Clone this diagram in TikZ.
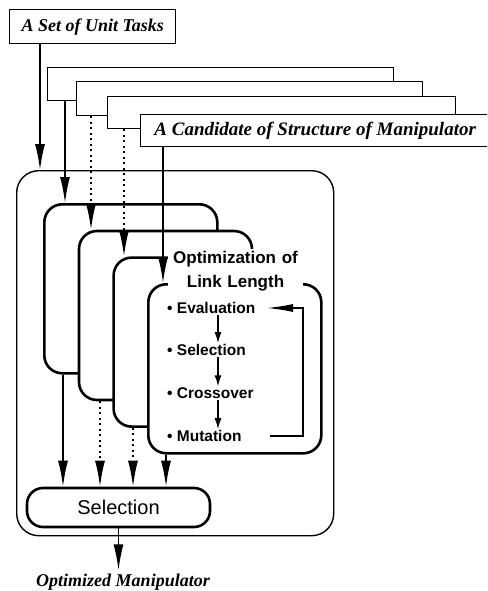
\documentclass[tikz,border=0pt]{standalone}
\usepackage{fontspec}
\setmainfont{Liberation Serif}
\setsansfont{Liberation Sans}
\usetikzlibrary{arrows.meta}

\begin{document}
\begin{tikzpicture}[x=1pt, y=-1pt,
    box/.style = {draw, line width=1.4pt, fill=white, inner sep=0pt, minimum height=33pt, anchor=north west, font=\fontsize{18}{20}\selectfont\bfseries\itshape},
    frame/.style = {draw, line width=2.6pt, fill=white, rounded corners=18pt, minimum width=173pt, minimum height=169pt, anchor=north west},
    item/.style = {anchor=west, inner sep=1pt, font=\fontsize{15.5}{17}\selectfont\sffamily\bfseries},
    arr/.style = {line width=1.6pt, -{Latex[length=26pt, width=10pt]}},
    dotarr/.style = {arr, dash pattern=on 2pt off 3.5pt},
    small/.style = {line width=1.4pt, -{Latex[length=11pt, width=7pt]}}]
    \clip (0,0) rectangle (487,591);
    % input boxes
    \node[box, minimum width=166pt, minimum height=34pt] (tasks) at (9,9) {A Set of Unit Tasks};
    \node[box, minimum width=346pt] (c1) at (47,67) {};
    \node[box, minimum width=346pt, minimum height=34pt] (c2) at (76,81) {};
    \node[box, minimum width=348pt, minimum height=32pt] (c3) at (107,96) {};
    \node[box, minimum width=349pt, minimum height=32pt, font=\fontsize{19}{21}\selectfont\bfseries\itshape] (c4) at (140,114) {A Candidate of Structure of Manipulator};
    % outer frame
    \node[draw, line width=1.4pt, rounded corners=22pt, minimum width=317pt, minimum height=365pt, anchor=north west] (outer) at (16,170) {};
    % optimization frames, back to front
    \node[frame] (o1) at (43,203) {};
    \node[frame] (o2) at (77.7,229.7) {};
    \node[frame] (o3) at (112.3,256.3) {};
    \node[frame] (o4) at (147,283) {};
    \node[fill=white, align=center, inner sep=2pt, text width=131pt, font=\fontsize{17}{24}\selectfont\sffamily\bfseries] (title) at (235.5,271) {Optimization of\\Link Length};
    \node[item] (ev) at (166,308) {• Evaluation};
    \node[item] (se) at (166,350) {• Selection};
    \node[item] (cr) at (166,393) {• Crossover};
    \node[item] (mu) at (166,436) {• Mutation};
    % final selection
    \node[draw, line width=2.6pt, rounded corners=16pt, minimum width=183pt, minimum height=39pt, font=\fontsize{20}{22}\selectfont\sffamily] (sel) at (118.5,507.5) {Selection};
    \node[font=\fontsize{18}{20}\selectfont\bfseries\itshape] (out) at (123,582) {Optimized Manipulator};
    % columns
    \coordinate (k0) at (40,0);
    \coordinate (k1) at (65,0);
    \coordinate (k2) at (91,0);
    \coordinate (k3) at (124,0);
    \coordinate (k4) at (163,0);
    \coordinate (m1) at (63,0);
    \coordinate (m2) at (100,0);
    \coordinate (m3) at (133,0);
    \coordinate (m4) at (166,0);
    \coordinate (ax) at (218,0);
    \coordinate (fbs) at (270,0);
    \coordinate (fbe) at (267,0);
    \coordinate (fb) at (303,0);
    % arrows
    \draw[arr] (tasks.south -| k0) -- (outer.north -| k0);
    \draw[arr] (c1.south -| k1) -- (o1.north -| k1);
    \draw[dotarr] (c2.south -| k2) -- (o2.north -| k2);
    \draw[dotarr] (c3.south -| k3) -- (o3.north -| k3);
    \draw[arr] (c4.south -| k4) -- (o4.north -| k4);
    \draw[arr] (o1.south -| m1) -- (sel.north -| m1);
    \draw[dotarr] (o2.south -| m2) -- (sel.north -| m2);
    \draw[dotarr] (o3.south -| m3) -- (sel.north -| m3);
    \draw[arr] (o4.south -| m4) -- (sel.north -| m4);
    \draw[arr] (sel.south) -- (out.north -| sel);
    \draw[small] (ev.south -| ax) -- (se.north -| ax);
    \draw[small] (se.south -| ax) -- (cr.north -| ax);
    \draw[small] (cr.south -| ax) -- (mu.north -| ax);
    \draw[small, -{Latex[length=26pt, width=8pt]}] (mu -| fbs) -- (mu -| fb) |- (ev -| fbe);
\end{tikzpicture}
\end{document}
